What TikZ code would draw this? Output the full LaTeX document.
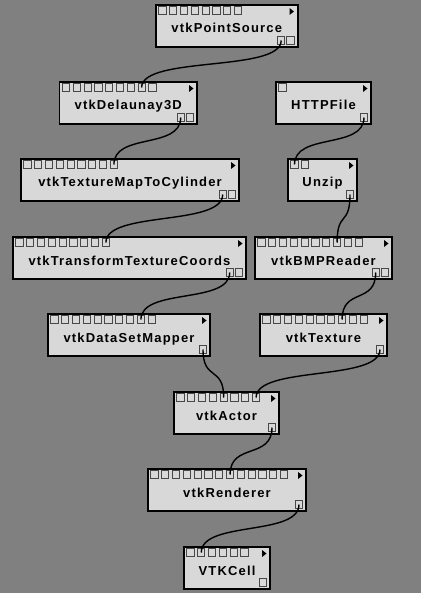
\documentclass[tikz,border=0pt]{standalone}
\usepackage{fontspec}
\newfontfamily\modfont[LetterSpace=9]{Liberation Sans}
\definecolor{bgcol}{RGB}{128,128,128}
\definecolor{boxfill}{RGB}{216,216,216}
\definecolor{portline}{RGB}{72,72,72}
\newcommand\vtkmodule[7]{%
  \node[modbox, minimum width={(#4-#2-1.6)*1pt}, minimum height=42.4pt] (#1) at ({(#2+#4)/2},{#3+22}) {};
  \node[modlabel, anchor=base] (#1-t) at ({(#2+#4)/2},{#3+29}) {#5};
  \foreach \k in {1,...,#6} {\node[port] (#1-i\k) at ({#2+7.5+(\k-1)*10.8},{#3+6.5}) {};}
  \foreach \k in {1,...,#7} {\node[port] (#1-o\k) at ({#4-8-(#7-\k)*9.3},{#3+36.5}) {};}
  \fill[black] ({#4-9},{#3+4}) -- ({#4-4.5},{#3+7.5}) -- ({#4-9},{#3+11}) -- cycle;
}
\begin{document}
\begin{tikzpicture}[x=1pt,y=-1pt,
  modbox/.style={draw=black, line width=1.6pt, fill=boxfill, rectangle, inner sep=0pt},
  modlabel/.style={font=\modfont\bfseries\fontsize{13}{13}\selectfont, inner sep=0pt, text=black},
  port/.style={draw=portline, fill=boxfill, line width=1pt, minimum size=7.2pt, inner sep=0pt, rectangle},
  wire/.style={draw=black, line width=1.4pt}]
\fill[bgcol] (0,0) rectangle (421,593);
\useasboundingbox (0,0) rectangle (421,593);
\vtkmodule{ps}{155}{4}{298.5}{vtkPointSource}{8}{2}
\vtkmodule{del}{58.5}{81}{198}{vtkDelaunay3D}{9}{2}
\vtkmodule{http}{275}{81}{372}{HTTPFile}{1}{1}
\vtkmodule{tmc}{20}{158}{240}{vtkTextureMapToCylinder}{9}{2}
\vtkmodule{unzip}{287}{158}{358}{Unzip}{2}{1}
\vtkmodule{ttc}{12}{236}{247}{vtkTransformTextureCoords}{9}{2}
\vtkmodule{bmp}{254}{236}{393}{vtkBMPReader}{10}{2}
\vtkmodule{dsm}{47}{313}{211}{vtkDataSetMapper}{10}{1}
\vtkmodule{tex}{259}{313}{388}{vtkTexture}{10}{1}
\vtkmodule{actor}{173}{391}{280}{vtkActor}{8}{1}
\vtkmodule{ren}{147}{468}{307}{vtkRenderer}{13}{1}
\vtkmodule{cell}{183}{546}{271}{VTKCell}{6}{1}
\draw[wire] (ps-o1.center) .. controls +(0,32) and +(0,-32) .. (del-i8.center);
\draw[wire] (del-o1.center) .. controls +(0,32) and +(0,-32) .. (tmc-i9.center);
\draw[wire] (tmc-o1.center) .. controls +(0,32) and +(0,-32) .. (ttc-i9.center);
\draw[wire] (ttc-o1.center) .. controls +(0,32) and +(0,-32) .. (dsm-i9.center);
\draw[wire] (http-o1.center) .. controls +(0,32) and +(0,-32) .. (unzip-i1.center);
\draw[wire] (unzip-o1.center) .. controls +(0,32) and +(0,-32) .. (bmp-i8.center);
\draw[wire] (bmp-o1.center) .. controls +(0,32) and +(0,-32) .. (tex-i8.center);
\draw[wire] (dsm-o1.center) .. controls +(0,32) and +(0,-32) .. (actor-i5.center);
\draw[wire] (tex-o1.center) .. controls +(0,32) and +(0,-32) .. (actor-i8.center);
\draw[wire] (actor-o1.center) .. controls +(0,32) and +(0,-32) .. (ren-i8.center);
\draw[wire] (ren-o1.center) .. controls +(0,32) and +(0,-32) .. (cell-i2.center);
\end{tikzpicture}
\end{document}
